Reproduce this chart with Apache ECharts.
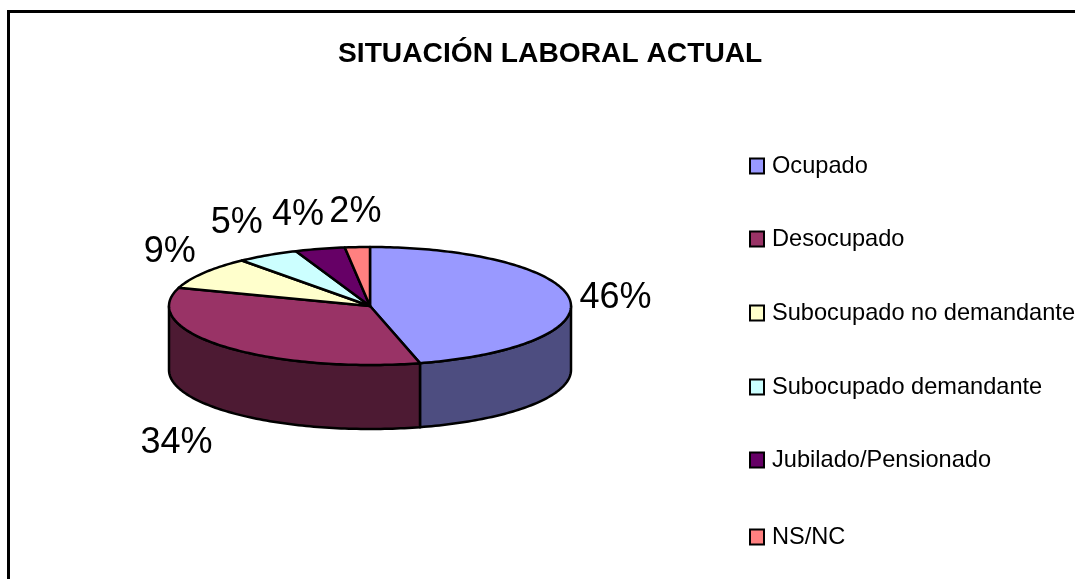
<!DOCTYPE html>
<html>
<head>
<meta charset="utf-8">
<style>html,body{margin:0;padding:0;background:#fff}#c{width:1075px;height:579px}</style>
<script src="https://cdn.jsdelivr.net/npm/echarts@6/dist/echarts.min.js"></script>
</head>
<body>
<div id="c"></div>
<script>
const categories = ['Ocupado','Desocupado','Subocupado no demandante','Subocupado demandante','Jubilado/Pensionado','NS/NC'];
const values = [46,34,9,5,4,2];
const topColors = ['#9999FF','#993366','#FFFFCC','#CCFFFF','#660066','#FF8080'];
const sideColors = ['#4D4D80','#4D1A33','#808066','#668080','#330033','#804040'];
// label placement relative to the rim point at each slice's middle angle
const labelNudge = [[46,-1],[-47,97],[-34,-21],[-31,-32],[-22,-34],[-2,-35]];
// vertical layout of the legend rows
const legendRowTops = [154,227,301,375,448,525];

const FONT = '"Liberation Sans", Arial, sans-serif';
const PIE = {cx:370, cy:306, rx:201, ry:59, depth:64};
const total = values.reduce((a,b)=>a+b,0);
const rim = (t,dy)=>[PIE.cx+PIE.rx*Math.sin(t), PIE.cy-PIE.ry*Math.cos(t)+(dy||0)];
function arc(a,b,dy){
  const n = Math.max(2,Math.ceil(Math.abs(b-a)/0.02)), pts=[];
  for(let i=0;i<=n;i++) pts.push(rim(a+(b-a)*i/n,dy));
  return pts;
}
function sliceRange(idx){
  let s=0; for(let i=0;i<idx;i++) s+=values[i];
  return [s/total*2*Math.PI,(s+values[idx])/total*2*Math.PI];
}
function renderer(idx){
  return function(){
    const [a,b]=sliceRange(idx);
    const children=[];
    const lo=Math.max(a,Math.PI/2), hi=Math.min(b,Math.PI*1.5);
    const line={stroke:'#000',lineWidth:2.5,lineJoin:'round'};
    if(hi>lo){
      const pts=arc(lo,hi,0).concat(arc(hi,lo,PIE.depth));
      children.push({type:'polygon',shape:{points:pts},style:Object.assign({fill:sideColors[idx]},line)});
    }
    const top=[[PIE.cx,PIE.cy]].concat(arc(a,b,0));
    children.push({type:'polygon',shape:{points:top},style:Object.assign({fill:topColors[idx]},line)});
    const m=rim((a+b)/2,0), nudge=labelNudge[idx];
    children.push({type:'text',style:{
      x:m[0]+nudge[0],y:m[1]+nudge[1],text:values[idx]+'%',
      font:'36px '+FONT,fill:'#000',align:'center',verticalAlign:'middle'
    }});
    return {type:'group',children};
  };
}
const series = categories.map((name,i)=>({
  type:'custom',name,coordinateSystem:'none',z:2+i,
  data:[[values[i]]],
  itemStyle:{color:topColors[i]},
  renderItem:renderer(i),
  silent:true,animation:false
}));
const legends = categories.map((name,i)=>({
  orient:'vertical',left:749,top:legendRowTops[i],padding:0,data:[name],
  icon:'rect',itemWidth:14,itemHeight:15,selectedMode:false,
  itemStyle:{borderColor:'#000',borderWidth:2},
  textStyle:{fontFamily:FONT,fontSize:23.6,color:'#000',padding:[0,0,0,3]}
}));
const chart = echarts.init(document.getElementById('c'),null,{renderer:'canvas'});
chart.setOption({
  animation:false,
  backgroundColor:'#fff',
  title:{text:'SITUACIÓN LABORAL ACTUAL',left:338,top:40,padding:0,
    textStyle:{fontFamily:FONT,fontWeight:'bold',fontSize:28.2,color:'#000'}},
  legend:legends,
  graphic:[{type:'polyline',silent:true,z:0,
    shape:{points:[[8.5,590],[8.5,11.5],[1090,11.5]]},
    style:{stroke:'#000',lineWidth:3,fill:null}}],
  series
});
</script>
</body>
</html>
